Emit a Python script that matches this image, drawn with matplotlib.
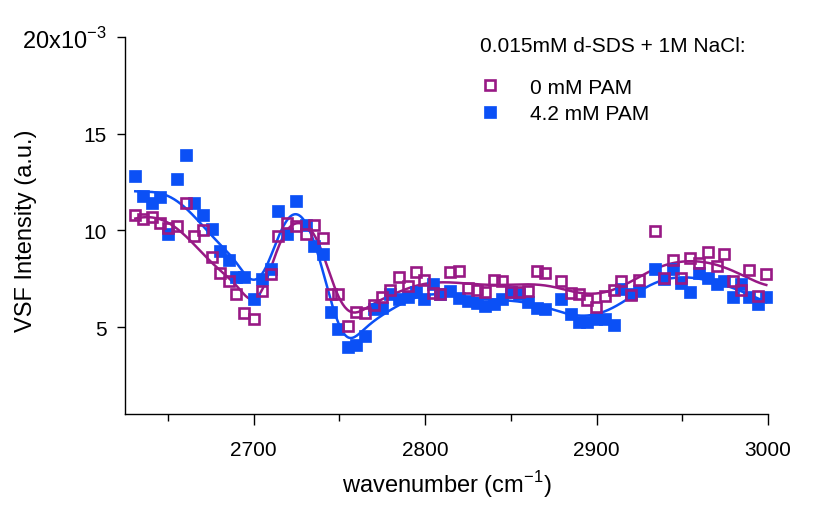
import numpy as np
import matplotlib
matplotlib.use("Agg")
import matplotlib.pyplot as plt
from matplotlib.ticker import MultipleLocator

plt.rcParams['font.family'] = ['Liberation Sans', 'DejaVu Sans']
plt.rcParams['axes.unicode_minus'] = False

wavenumber = [2631, 2635.5, 2640.5, 2645.5, 2650, 2655.5, 2660.5, 2665.5, 2670.5, 2675.5,
              2680.5, 2685.5, 2690, 2694.5, 2700, 2705, 2710, 2714.5, 2719.5, 2725,
              2730.5, 2735.5, 2740.5, 2745, 2749.5, 2755, 2760, 2765, 2770, 2775,
              2779.5, 2785, 2790, 2794.5, 2799.5, 2804.5, 2809, 2814.5, 2820, 2825,
              2830, 2835, 2840, 2845, 2850, 2855, 2860, 2865, 2870, 2879,
              2885, 2890, 2894.5, 2899.5, 2905, 2910, 2914.5, 2920, 2924.5, 2934,
              2939.5, 2944.5, 2949.5, 2954.5, 2960, 2965, 2970, 2974.5, 2979.5, 2984.5,
              2989, 2994, 2999]

pam_0 = [10.77, 10.57, 10.69, 10.4, 10.14, 10.2, 11.4, 9.7, 10.0, 8.6,
         7.8, 7.4, 6.7, 5.72, 5.41, 6.87, 7.73, 9.7, 10.4, 10.2,
         9.8, 10.26, 9.6, 6.7, 6.7, 5.04, 5.79, 5.7, 6.13, 6.53,
         6.92, 7.6, 7.1, 7.85, 7.44, 6.75, 6.7, 7.85, 7.9, 7.0,
         6.92, 6.82, 7.44, 7.39, 6.79, 6.82, 6.87, 7.9, 7.8, 7.4,
         6.75, 6.7, 6.4, 6.06, 6.58, 6.92, 7.39, 6.65, 7.44, 9.97,
         7.51, 8.47, 7.51, 8.59, 8.33, 8.88, 8.13, 8.76, 7.39, 6.92,
         7.95, 6.62, 7.73]

pam_42 = [12.83, 11.77, 11.4, 11.7, 9.8, 12.66, 13.9, 11.4, 10.77, 10.09,
          8.93, 8.45, 7.6, 7.6, 6.44, 7.47, 7.99, 11.0, 9.8, 11.5,
          10.3, 9.2, 8.76, 5.76, 4.9, 3.95, 4.07, 4.55, 5.93, 6.0,
          6.7, 6.44, 6.53, 6.79, 6.44, 7.2, 6.7, 6.87, 6.5, 6.36,
          6.24, 6.1, 6.18, 6.44, 6.79, 6.7, 6.27, 6.0, 5.93, 6.44,
          5.67, 5.24, 5.24, 5.41, 5.41, 5.1, 6.96, 6.7, 6.87, 7.99,
          7.5, 7.99, 7.3, 6.82, 7.78, 7.56, 7.2, 7.4, 6.53, 7.2,
          6.53, 6.18, 6.53]

labels = ['0 mM PAM', '4.2 mM PAM']
legend_title = '0.015mM d-SDS + 1M NaCl:'

purple = '#981985'
blue = '#0B50F6'


def sig(z):
    return 1.0 / (1.0 + np.exp(-z))


def smooth(x, y):
    x = np.asarray(x, float)
    y = np.asarray(y, float)
    xg = np.linspace(x.min(), x.max(), 600)
    out = []
    for xv in xg:
        h_left = 24
        h_mid = 9
        h_right = 22
        h = (h_left + (h_mid - h_left) * sig((xv - 2694) / 5)
             + (h_right - h_mid) * sig((xv - 2765) / 6))
        w = np.exp(-0.5 * ((x - xv) / h) ** 2)
        A = np.vstack([np.ones_like(x), x - xv, (x - xv) ** 2]).T
        W = np.sqrt(w)
        coef, *_ = np.linalg.lstsq(A * W[:, None], y * W, rcond=None)
        out.append(coef[0])
    return xg, np.array(out)


fig = plt.figure(figsize=(8.38, 5.06), dpi=100)
ax = fig.add_axes([125 / 838, 1 - 415 / 506, (768 - 125) / 838, (415 - 38) / 506])

xg, f0 = smooth(wavenumber, pam_0)
xg, f1 = smooth(wavenumber, pam_42)
ax.plot(xg, f1, color=blue, lw=1.8, zorder=2)
ax.plot(xg, f0, color=purple, lw=1.8, zorder=2)

ax.plot(wavenumber, pam_42, ls='none', marker='s', ms=8.3, mfc=blue, mec=blue,
        mew=0.5, label=labels[1], clip_on=False, zorder=3)
ax.plot(wavenumber, pam_0, ls='none', marker='s', ms=7.4, mfc='none', mec=purple,
        mew=1.9, label=labels[0], clip_on=False, zorder=4)

ax.set_xlim(2625, 3000)
ax.set_ylim(0.5, 20)
ax.set_yticks([5, 10, 15, 20])
ax.set_yticklabels(['5', '10', '15', '20x10$^{\\mathregular{-3}}$'])
ax.set_xticks([2700, 2800, 2900, 3000])
ax.xaxis.set_minor_locator(MultipleLocator(50))

for s in ['top', 'right']:
    ax.spines[s].set_visible(False)
for s in ['left', 'bottom']:
    ax.spines[s].set_linewidth(1.0)
ax.tick_params(axis='y', which='major', direction='out', length=6, width=1.0,
               labelsize=15, pad=7)
ax.tick_params(axis='x', which='major', direction='out', length=8, width=1.0,
               labelsize=15, pad=11)
ax.tick_params(axis='x', which='minor', direction='out', length=5, width=1.0)
ax.get_yticklabels()[-1].set_fontsize(17)

ax.set_xlabel('wavenumber (cm$^{\\mathregular{-1}}$)', fontsize=17, labelpad=6)
ax.set_ylabel('VSF Intensity (a.u.)', fontsize=17)
ax.yaxis.set_label_coords((37 - 125) / 643, 0.49)

fig.text(480 / 838, 1 - 47 / 506, legend_title, fontsize=15, va='center', ha='left')
h, l = ax.get_legend_handles_labels()
leg = ax.legend(h[::-1], l[::-1], loc='upper left', bbox_to_anchor=(465 / 838, 1 - 66 / 506),
                bbox_transform=fig.transFigure, frameon=False,
                fontsize=15, handlelength=1.2, handletextpad=1.3,
                labelspacing=0.35, borderpad=0.1)

fig.savefig('out.png', dpi=100)
